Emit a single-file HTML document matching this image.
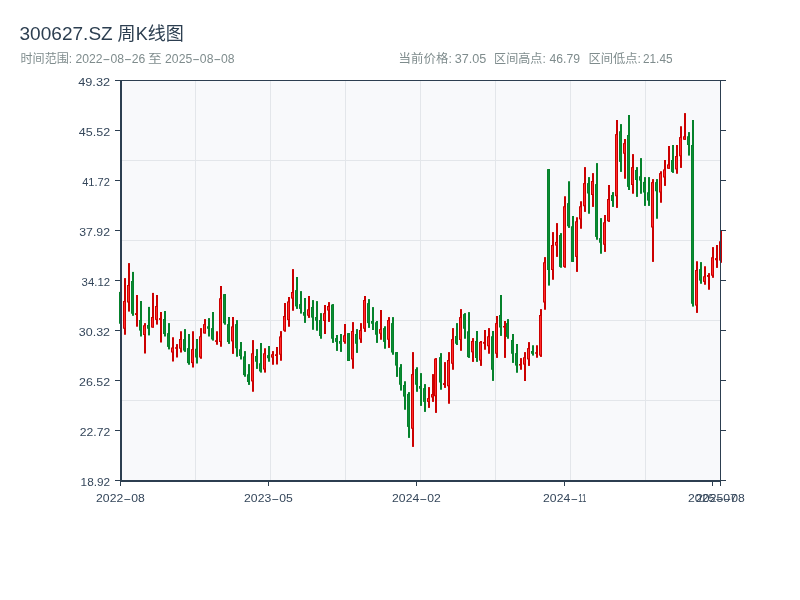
<!DOCTYPE html>
<html lang="zh-CN">
<head>
<meta charset="utf-8">
<title>300627.SZ 周K线图</title>
<style>
html,body{margin:0;padding:0;background:#fff;}
body{width:800px;height:600px;overflow:hidden;font-family:"Liberation Sans", "Noto Sans CJK SC", sans-serif;}
svg{display:block;}
svg text{font-family:"Liberation Sans", "Noto Sans CJK SC", sans-serif;}
</style>
</head>
<body>
<svg width="800" height="600" viewBox="0 0 800 600">
<rect x="0" y="0" width="800" height="600" fill="#ffffff"/>
<rect x="121" y="81" width="600" height="400" fill="#f8f9fb"/>
<g fill="#e3e6ea">
<rect x="195" y="81" width="1" height="400"/>
<rect x="270" y="81" width="1" height="400"/>
<rect x="345" y="81" width="1" height="400"/>
<rect x="420" y="81" width="1" height="400"/>
<rect x="495" y="81" width="1" height="400"/>
<rect x="570" y="81" width="1" height="400"/>
<rect x="645" y="81" width="1" height="400"/>
<rect x="121" y="160" width="600" height="1"/>
<rect x="121" y="240" width="600" height="1"/>
<rect x="121" y="320" width="600" height="1"/>
<rect x="121" y="400" width="600" height="1"/>
</g>
<g>
<g fill="#05822b"><rect x="120" y="291.9" width="2" height="31.85"/><rect x="119" y="291.9" width="3" height="31.85"/><rect x="120" y="292.9" width="1" height="29.85" fill="#0b8c32"/></g>
<g fill="#cc0000"><rect x="124" y="278.1" width="2" height="56.65"/><rect x="123" y="301" width="3" height="27.75"/><rect x="124" y="302" width="1" height="25.75" fill="#ff2b2b"/></g>
<g fill="#cc0000"><rect x="128" y="263.1" width="2" height="48.5"/><rect x="127" y="285" width="3" height="17.5"/><rect x="128" y="286" width="1" height="15.5" fill="#ff2b2b"/></g>
<g fill="#05822b"><rect x="132" y="271.9" width="2" height="43.9"/><rect x="131" y="281" width="3" height="32.75"/><rect x="132" y="282" width="1" height="30.75" fill="#0b8c32"/></g>
<g fill="#cc0000"><rect x="136" y="295" width="2" height="31.7"/><rect x="135" y="313.1" width="3" height="1.9"/></g>
<g fill="#05822b"><rect x="140" y="301" width="2" height="35.5"/><rect x="139" y="320" width="3" height="10.6"/><rect x="140" y="321" width="1" height="8.6" fill="#0b8c32"/></g>
<g fill="#cc0000"><rect x="144" y="323.1" width="2" height="30.4"/><rect x="143" y="325.25" width="3" height="9.75"/><rect x="144" y="326.25" width="1" height="7.75" fill="#ff2b2b"/></g>
<g fill="#05822b"><rect x="148" y="306.9" width="2" height="28.5"/><rect x="147" y="325" width="3" height="3.75"/><rect x="148" y="326" width="1" height="1.75" fill="#0b8c32"/></g>
<g fill="#cc0000"><rect x="152" y="292.9" width="2" height="34.7"/><rect x="151" y="317" width="3" height="10.6"/><rect x="152" y="318" width="1" height="8.6" fill="#ff2b2b"/></g>
<g fill="#cc0000"><rect x="156" y="295" width="2" height="29.6"/><rect x="155" y="306" width="3" height="13.9"/><rect x="156" y="307" width="1" height="11.9" fill="#ff2b2b"/></g>
<g fill="#cc0000"><rect x="160" y="312" width="2" height="30.5"/><rect x="159" y="318.1" width="3" height="1.8"/></g>
<g fill="#05822b"><rect x="164" y="311" width="2" height="25.5"/><rect x="163" y="319" width="3" height="15"/><rect x="164" y="320" width="1" height="13" fill="#0b8c32"/></g>
<g fill="#05822b"><rect x="168" y="323.1" width="2" height="26.3"/><rect x="167" y="333.1" width="3" height="13.8"/><rect x="168" y="334.1" width="1" height="11.8" fill="#0b8c32"/></g>
<g fill="#cc0000"><rect x="172" y="337.25" width="2" height="24.25"/><rect x="171" y="347.5" width="3" height="5"/><rect x="172" y="348.5" width="1" height="3" fill="#ff2b2b"/></g>
<g fill="#cc0000"><rect x="176" y="344.1" width="2" height="13.4"/><rect x="175" y="347.25" width="3" height="1.5"/></g>
<g fill="#cc0000"><rect x="180" y="331.25" width="2" height="21.25"/><rect x="179" y="339" width="3" height="9.75"/><rect x="180" y="340" width="1" height="7.75" fill="#ff2b2b"/></g>
<g fill="#05822b"><rect x="184" y="329.1" width="2" height="22.8"/><rect x="183" y="339.1" width="3" height="11.5"/><rect x="184" y="340.1" width="1" height="9.5" fill="#0b8c32"/></g>
<g fill="#05822b"><rect x="188" y="334" width="2" height="30.75"/><rect x="187" y="348.1" width="3" height="15"/><rect x="188" y="349.1" width="1" height="13" fill="#0b8c32"/></g>
<g fill="#cc0000"><rect x="192" y="331.25" width="2" height="36.25"/><rect x="191" y="349.1" width="3" height="14"/><rect x="192" y="350.1" width="1" height="12" fill="#ff2b2b"/></g>
<g fill="#05822b"><rect x="196" y="339" width="2" height="24.5"/><rect x="195" y="348.75" width="3" height="8.75"/><rect x="196" y="349.75" width="1" height="6.75" fill="#0b8c32"/></g>
<g fill="#cc0000"><rect x="200" y="328.1" width="2" height="30.65"/><rect x="199" y="336.25" width="3" height="21.25"/><rect x="200" y="337.25" width="1" height="19.25" fill="#ff2b2b"/></g>
<g fill="#cc0000"><rect x="204" y="319.1" width="2" height="14.4"/><rect x="203" y="324.1" width="3" height="9.4"/><rect x="204" y="325.1" width="1" height="7.4" fill="#ff2b2b"/></g>
<g fill="#05822b"><rect x="208" y="318.1" width="2" height="18.4"/><rect x="207" y="326.25" width="3" height="2.5"/><rect x="208" y="327.25" width="1" height="0.5" fill="#0b8c32"/></g>
<g fill="#05822b"><rect x="212" y="312" width="2" height="28.6"/><rect x="211" y="328.1" width="3" height="11.3"/><rect x="212" y="329.1" width="1" height="9.3" fill="#0b8c32"/></g>
<g fill="#cc0000"><rect x="216" y="331.25" width="2" height="13.5"/><rect x="215" y="340.25" width="3" height="1.65"/></g>
<g fill="#cc0000"><rect x="220" y="286" width="2" height="60.75"/><rect x="219" y="298.25" width="3" height="43.75"/><rect x="220" y="299.25" width="1" height="41.75" fill="#ff2b2b"/></g>
<g fill="#05822b"><rect x="224" y="294.1" width="2" height="30.6"/><rect x="223" y="294.1" width="3" height="29.15"/><rect x="224" y="295.1" width="1" height="27.15" fill="#0b8c32"/></g>
<g fill="#05822b"><rect x="228" y="317" width="2" height="26.9"/><rect x="227" y="324.1" width="3" height="17.9"/><rect x="228" y="325.1" width="1" height="15.9" fill="#0b8c32"/></g>
<g fill="#cc0000"><rect x="232" y="317" width="2" height="36.9"/><rect x="231" y="326.4" width="3" height="15"/><rect x="232" y="327.4" width="1" height="13" fill="#ff2b2b"/></g>
<g fill="#05822b"><rect x="236" y="320.1" width="2" height="36.65"/><rect x="235" y="324.1" width="3" height="24.15"/><rect x="236" y="325.1" width="1" height="22.15" fill="#0b8c32"/></g>
<g fill="#05822b"><rect x="240" y="342" width="2" height="17.5"/><rect x="239" y="349.25" width="3" height="6.75"/><rect x="240" y="350.25" width="1" height="4.75" fill="#0b8c32"/></g>
<g fill="#05822b"><rect x="244" y="351.1" width="2" height="25.65"/><rect x="243" y="356.4" width="3" height="18.7"/><rect x="244" y="357.4" width="1" height="16.7" fill="#0b8c32"/></g>
<g fill="#05822b"><rect x="248" y="364.1" width="2" height="20.8"/><rect x="247" y="374.25" width="3" height="7.75"/><rect x="248" y="375.25" width="1" height="5.75" fill="#0b8c32"/></g>
<g fill="#cc0000"><rect x="252" y="340.1" width="2" height="51.65"/><rect x="251" y="353.25" width="3" height="28.15"/><rect x="252" y="354.25" width="1" height="26.15" fill="#ff2b2b"/></g>
<g fill="#05822b"><rect x="256" y="349.1" width="2" height="19.8"/><rect x="255" y="356" width="3" height="5.75"/><rect x="256" y="357" width="1" height="3.75" fill="#0b8c32"/></g>
<g fill="#05822b"><rect x="260" y="343" width="2" height="29.6"/><rect x="259" y="363.25" width="3" height="8.15"/><rect x="260" y="364.25" width="1" height="6.15" fill="#0b8c32"/></g>
<g fill="#cc0000"><rect x="264" y="348.25" width="2" height="24.35"/><rect x="263" y="353.25" width="3" height="16.25"/><rect x="264" y="354.25" width="1" height="14.25" fill="#ff2b2b"/></g>
<g fill="#05822b"><rect x="268" y="346" width="2" height="15.75"/><rect x="267" y="355.1" width="3" height="3.15"/><rect x="268" y="356.1" width="1" height="1.15" fill="#0b8c32"/></g>
<g fill="#cc0000"><rect x="272" y="351.1" width="2" height="13.65"/><rect x="271" y="354.25" width="3" height="3.35"/><rect x="272" y="355.25" width="1" height="1.35" fill="#ff2b2b"/></g>
<g fill="#cc0000"><rect x="276" y="347" width="2" height="17.5"/><rect x="275" y="354.25" width="3" height="1.75"/></g>
<g fill="#cc0000"><rect x="280" y="331.1" width="2" height="29.65"/><rect x="279" y="336.4" width="3" height="18.35"/><rect x="280" y="337.4" width="1" height="16.35" fill="#ff2b2b"/></g>
<g fill="#cc0000"><rect x="284" y="303" width="2" height="28.75"/><rect x="283" y="316" width="3" height="14.75"/><rect x="284" y="317" width="1" height="12.75" fill="#ff2b2b"/></g>
<g fill="#cc0000"><rect x="288" y="297" width="2" height="29.75"/><rect x="287" y="301.4" width="3" height="18.7"/><rect x="288" y="302.4" width="1" height="16.7" fill="#ff2b2b"/></g>
<g fill="#cc0000"><rect x="292" y="269.1" width="2" height="41.65"/><rect x="291" y="292" width="3" height="6.6"/><rect x="292" y="293" width="1" height="4.6" fill="#ff2b2b"/></g>
<g fill="#05822b"><rect x="296" y="277" width="2" height="31.9"/><rect x="295" y="290.1" width="3" height="16.3"/><rect x="296" y="291.1" width="1" height="14.3" fill="#0b8c32"/></g>
<g fill="#05822b"><rect x="300" y="291.1" width="2" height="22.5"/><rect x="299" y="304.1" width="3" height="4.8"/><rect x="300" y="305.1" width="1" height="2.8" fill="#0b8c32"/></g>
<g fill="#05822b"><rect x="304" y="298" width="2" height="24.9"/><rect x="303" y="312" width="3" height="3.75"/><rect x="304" y="313" width="1" height="1.75" fill="#0b8c32"/></g>
<g fill="#cc0000"><rect x="308" y="296" width="2" height="21.9"/><rect x="307" y="309.25" width="3" height="6.5"/><rect x="308" y="310.25" width="1" height="4.5" fill="#ff2b2b"/></g>
<g fill="#05822b"><rect x="312" y="300.1" width="2" height="29.7"/><rect x="311" y="307" width="3" height="10.6"/><rect x="312" y="308" width="1" height="8.6" fill="#0b8c32"/></g>
<g fill="#05822b"><rect x="316" y="301.1" width="2" height="29.65"/><rect x="315" y="317" width="3" height="3.75"/><rect x="316" y="318" width="1" height="1.75" fill="#0b8c32"/></g>
<g fill="#05822b"><rect x="320" y="313.1" width="2" height="25.65"/><rect x="319" y="320" width="3" height="16"/><rect x="320" y="321" width="1" height="14" fill="#0b8c32"/></g>
<g fill="#cc0000"><rect x="324" y="305" width="2" height="29"/><rect x="323" y="313.1" width="3" height="7.9"/><rect x="324" y="314.1" width="1" height="5.9" fill="#ff2b2b"/></g>
<g fill="#cc0000"><rect x="328" y="302.1" width="2" height="19.8"/><rect x="327" y="306" width="3" height="4.6"/><rect x="328" y="307" width="1" height="2.6" fill="#ff2b2b"/></g>
<g fill="#05822b"><rect x="332" y="304.1" width="2" height="38.8"/><rect x="331" y="304.6" width="3" height="34.15"/><rect x="332" y="305.6" width="1" height="32.15" fill="#0b8c32"/></g>
<g fill="#05822b"><rect x="336" y="335" width="2" height="15.9"/><rect x="335" y="338.1" width="3" height="3.8"/><rect x="336" y="339.1" width="1" height="1.8" fill="#0b8c32"/></g>
<g fill="#05822b"><rect x="340" y="334" width="2" height="17.9"/><rect x="339" y="341" width="3" height="2.75"/><rect x="340" y="342" width="1" height="0.75" fill="#0b8c32"/></g>
<g fill="#cc0000"><rect x="344" y="324" width="2" height="19.75"/><rect x="343" y="335.25" width="3" height="6.65"/><rect x="344" y="336.25" width="1" height="4.65" fill="#ff2b2b"/></g>
<g fill="#05822b"><rect x="348" y="333.1" width="2" height="27.9"/><rect x="347" y="333.1" width="3" height="27.9"/><rect x="348" y="334.1" width="1" height="25.9" fill="#0b8c32"/></g>
<g fill="#cc0000"><rect x="352" y="322.1" width="2" height="46.65"/><rect x="351" y="331" width="3" height="28.4"/><rect x="352" y="332" width="1" height="26.4" fill="#ff2b2b"/></g>
<g fill="#05822b"><rect x="356" y="329.1" width="2" height="23.8"/><rect x="355" y="334" width="3" height="9.75"/><rect x="356" y="335" width="1" height="7.75" fill="#0b8c32"/></g>
<g fill="#cc0000"><rect x="360" y="323.1" width="2" height="19.8"/><rect x="359" y="330" width="3" height="9.4"/><rect x="360" y="331" width="1" height="7.4" fill="#ff2b2b"/></g>
<g fill="#cc0000"><rect x="364" y="296" width="2" height="35.9"/><rect x="363" y="300" width="3" height="28.75"/><rect x="364" y="301" width="1" height="26.75" fill="#ff2b2b"/></g>
<g fill="#05822b"><rect x="368" y="299.1" width="2" height="28.8"/><rect x="367" y="303.1" width="3" height="20"/><rect x="368" y="304.1" width="1" height="18" fill="#0b8c32"/></g>
<g fill="#05822b"><rect x="372" y="307.1" width="2" height="22.9"/><rect x="371" y="321" width="3" height="2.75"/><rect x="372" y="322" width="1" height="0.75" fill="#0b8c32"/></g>
<g fill="#05822b"><rect x="376" y="321" width="2" height="21.9"/><rect x="375" y="322.25" width="3" height="12.5"/><rect x="376" y="323.25" width="1" height="10.5" fill="#0b8c32"/></g>
<g fill="#cc0000"><rect x="380" y="310" width="2" height="29.75"/><rect x="379" y="329.1" width="3" height="4.65"/><rect x="380" y="330.1" width="1" height="2.65" fill="#ff2b2b"/></g>
<g fill="#05822b"><rect x="384" y="326.25" width="2" height="22.5"/><rect x="383" y="328.1" width="3" height="13.8"/><rect x="384" y="329.1" width="1" height="11.8" fill="#0b8c32"/></g>
<g fill="#cc0000"><rect x="388" y="317.1" width="2" height="30.8"/><rect x="387" y="320" width="3" height="19.75"/><rect x="388" y="321" width="1" height="17.75" fill="#ff2b2b"/></g>
<g fill="#05822b"><rect x="392" y="317.1" width="2" height="37.65"/><rect x="391" y="323.1" width="3" height="29.4"/><rect x="392" y="324.1" width="1" height="27.4" fill="#0b8c32"/></g>
<g fill="#05822b"><rect x="396" y="352.1" width="2" height="24.8"/><rect x="395" y="352.1" width="3" height="13.5"/><rect x="396" y="353.1" width="1" height="11.5" fill="#0b8c32"/></g>
<g fill="#05822b"><rect x="400" y="364.1" width="2" height="26.5"/><rect x="399" y="367.25" width="3" height="17.5"/><rect x="400" y="368.25" width="1" height="15.5" fill="#0b8c32"/></g>
<g fill="#05822b"><rect x="404" y="381.25" width="2" height="28.5"/><rect x="403" y="385" width="3" height="11.6"/><rect x="404" y="386" width="1" height="9.6" fill="#0b8c32"/></g>
<g fill="#05822b"><rect x="408" y="392.1" width="2" height="45.8"/><rect x="407" y="393.9" width="3" height="33"/><rect x="408" y="394.9" width="1" height="31" fill="#0b8c32"/></g>
<g fill="#cc0000"><rect x="412" y="352.1" width="2" height="94.8"/><rect x="411" y="374.1" width="3" height="54.65"/><rect x="412" y="375.1" width="1" height="52.65" fill="#ff2b2b"/></g>
<g fill="#05822b"><rect x="416" y="367.25" width="2" height="24.55"/><rect x="415" y="369.1" width="3" height="15.65"/><rect x="416" y="370.1" width="1" height="13.65" fill="#0b8c32"/></g>
<g fill="#05822b"><rect x="420" y="373.1" width="2" height="32.8"/><rect x="419" y="386" width="3" height="2.75"/><rect x="420" y="387" width="1" height="0.75" fill="#0b8c32"/></g>
<g fill="#05822b"><rect x="424" y="384.1" width="2" height="27.8"/><rect x="423" y="388.1" width="3" height="13.8"/><rect x="424" y="389.1" width="1" height="11.8" fill="#0b8c32"/></g>
<g fill="#cc0000"><rect x="428" y="387.1" width="2" height="20.8"/><rect x="427" y="398.1" width="3" height="3.8"/><rect x="428" y="399.1" width="1" height="1.8" fill="#ff2b2b"/></g>
<g fill="#cc0000"><rect x="432" y="374.1" width="2" height="27.8"/><rect x="431" y="394.1" width="3" height="3.4"/><rect x="432" y="395.1" width="1" height="1.4" fill="#ff2b2b"/></g>
<g fill="#cc0000"><rect x="435" y="358.1" width="2" height="54.8"/><rect x="434" y="358.6" width="3" height="37.65"/><rect x="435" y="359.6" width="1" height="35.65" fill="#ff2b2b"/></g>
<g fill="#05822b"><rect x="440" y="353.1" width="2" height="36.65"/><rect x="439" y="357.1" width="3" height="25.4"/><rect x="440" y="358.1" width="1" height="23.4" fill="#0b8c32"/></g>
<g fill="#cc0000"><rect x="444" y="362.1" width="2" height="25.8"/><rect x="443" y="383.1" width="3" height="1.9"/></g>
<g fill="#cc0000"><rect x="448" y="352.1" width="2" height="51.65"/><rect x="447" y="360" width="3" height="26.25"/><rect x="448" y="361" width="1" height="24.25" fill="#ff2b2b"/></g>
<g fill="#cc0000"><rect x="452" y="328.1" width="2" height="41.65"/><rect x="451" y="339.1" width="3" height="24.65"/><rect x="452" y="340.1" width="1" height="22.65" fill="#ff2b2b"/></g>
<g fill="#05822b"><rect x="456" y="323.1" width="2" height="21.9"/><rect x="455" y="336" width="3" height="7.75"/><rect x="456" y="337" width="1" height="5.75" fill="#0b8c32"/></g>
<g fill="#cc0000"><rect x="460" y="309.1" width="2" height="41.7"/><rect x="459" y="317.1" width="3" height="22.9"/><rect x="460" y="318.1" width="1" height="20.9" fill="#ff2b2b"/></g>
<g fill="#05822b"><rect x="464" y="313.1" width="2" height="25.65"/><rect x="463" y="314.1" width="3" height="14.65"/><rect x="464" y="315.1" width="1" height="12.65" fill="#0b8c32"/></g>
<g fill="#05822b"><rect x="468" y="312.1" width="2" height="45.8"/><rect x="467" y="331.25" width="3" height="25.85"/><rect x="468" y="332.25" width="1" height="23.85" fill="#0b8c32"/></g>
<g fill="#cc0000"><rect x="472" y="338.1" width="2" height="23.8"/><rect x="471" y="341" width="3" height="11.3"/><rect x="472" y="342" width="1" height="9.3" fill="#ff2b2b"/></g>
<g fill="#05822b"><rect x="476" y="331" width="2" height="30.9"/><rect x="475" y="341" width="3" height="17"/><rect x="476" y="342" width="1" height="15" fill="#0b8c32"/></g>
<g fill="#cc0000"><rect x="480" y="341" width="2" height="24.9"/><rect x="479" y="341.9" width="3" height="18.7"/><rect x="480" y="342.9" width="1" height="16.7" fill="#ff2b2b"/></g>
<g fill="#cc0000"><rect x="484" y="330" width="2" height="19.75"/><rect x="483" y="341.9" width="3" height="1.85"/></g>
<g fill="#cc0000"><rect x="488" y="328.1" width="2" height="25.65"/><rect x="487" y="336.25" width="3" height="10"/><rect x="488" y="337.25" width="1" height="8" fill="#ff2b2b"/></g>
<g fill="#05822b"><rect x="492" y="331" width="2" height="49.9"/><rect x="491" y="336.25" width="3" height="33.5"/><rect x="492" y="337.25" width="1" height="31.5" fill="#0b8c32"/></g>
<g fill="#cc0000"><rect x="496" y="316" width="2" height="41.9"/><rect x="495" y="323.1" width="3" height="30.65"/><rect x="496" y="324.1" width="1" height="28.65" fill="#ff2b2b"/></g>
<g fill="#05822b"><rect x="500" y="295" width="2" height="40.9"/><rect x="499" y="315" width="3" height="12.5"/><rect x="500" y="316" width="1" height="10.5" fill="#0b8c32"/></g>
<g fill="#cc0000"><rect x="504" y="321" width="2" height="36.9"/><rect x="503" y="326" width="3" height="1.5"/></g>
<g fill="#05822b"><rect x="507" y="319.1" width="2" height="19.65"/><rect x="506" y="323.1" width="3" height="13.8"/><rect x="507" y="324.1" width="1" height="11.8" fill="#0b8c32"/></g>
<g fill="#05822b"><rect x="512" y="334" width="2" height="28.9"/><rect x="511" y="340" width="3" height="13.75"/><rect x="512" y="341" width="1" height="11.75" fill="#0b8c32"/></g>
<g fill="#05822b"><rect x="516" y="344" width="2" height="28.75"/><rect x="515" y="353.1" width="3" height="12.5"/><rect x="516" y="354.1" width="1" height="10.5" fill="#0b8c32"/></g>
<g fill="#cc0000"><rect x="520" y="358.1" width="2" height="11.65"/><rect x="519" y="364" width="3" height="1.6"/></g>
<g fill="#cc0000"><rect x="524" y="352.1" width="2" height="28.9"/><rect x="523" y="357.25" width="3" height="7.35"/><rect x="524" y="358.25" width="1" height="5.35" fill="#ff2b2b"/></g>
<g fill="#cc0000"><rect x="528" y="342.1" width="2" height="23.8"/><rect x="527" y="348.1" width="3" height="11.3"/><rect x="528" y="349.1" width="1" height="9.3" fill="#ff2b2b"/></g>
<g fill="#05822b"><rect x="532" y="345.25" width="2" height="10.35"/><rect x="531" y="351" width="3" height="2.75"/><rect x="532" y="352" width="1" height="0.75" fill="#0b8c32"/></g>
<g fill="#cc0000"><rect x="536" y="345.25" width="2" height="12.5"/><rect x="535" y="352.25" width="3" height="1.5"/></g>
<g fill="#cc0000"><rect x="540" y="309.1" width="2" height="47.8"/><rect x="539" y="315" width="3" height="40.6"/><rect x="540" y="316" width="1" height="38.6" fill="#ff2b2b"/></g>
<g fill="#cc0000"><rect x="544" y="257.1" width="2" height="52.65"/><rect x="543" y="262.25" width="3" height="40.25"/><rect x="544" y="263.25" width="1" height="38.25" fill="#ff2b2b"/></g>
<g fill="#05822b"><rect x="548" y="169.1" width="2" height="116.5"/><rect x="547" y="169.1" width="3" height="100.9"/><rect x="548" y="170.1" width="1" height="98.9" fill="#0b8c32"/></g>
<g fill="#cc0000"><rect x="552" y="232.1" width="2" height="47.65"/><rect x="551" y="245" width="3" height="25"/><rect x="552" y="246" width="1" height="23" fill="#ff2b2b"/></g>
<g fill="#cc0000"><rect x="556" y="223.1" width="2" height="33.8"/><rect x="555" y="241.9" width="3" height="3.7"/><rect x="556" y="242.9" width="1" height="1.7" fill="#ff2b2b"/></g>
<g fill="#05822b"><rect x="560" y="233.1" width="2" height="34.65"/><rect x="559" y="235" width="3" height="31.9"/><rect x="560" y="236" width="1" height="29.9" fill="#0b8c32"/></g>
<g fill="#cc0000"><rect x="564" y="196.25" width="2" height="71.5"/><rect x="563" y="206.25" width="3" height="60.65"/><rect x="564" y="207.25" width="1" height="58.65" fill="#ff2b2b"/></g>
<g fill="#05822b"><rect x="568" y="181.25" width="2" height="46.65"/><rect x="567" y="203.1" width="3" height="23.15"/><rect x="568" y="204.1" width="1" height="21.15" fill="#0b8c32"/></g>
<g fill="#05822b"><rect x="572" y="216" width="2" height="45.9"/><rect x="571" y="226.25" width="3" height="35.65"/><rect x="572" y="227.25" width="1" height="33.65" fill="#0b8c32"/></g>
<g fill="#cc0000"><rect x="576" y="217.25" width="2" height="54.65"/><rect x="575" y="221.25" width="3" height="35.65"/><rect x="576" y="222.25" width="1" height="33.65" fill="#ff2b2b"/></g>
<g fill="#cc0000"><rect x="580" y="201.25" width="2" height="27.5"/><rect x="579" y="206.25" width="3" height="13.15"/><rect x="580" y="207.25" width="1" height="11.15" fill="#ff2b2b"/></g>
<g fill="#cc0000"><rect x="584" y="167.1" width="2" height="44.8"/><rect x="583" y="183.1" width="3" height="23.15"/><rect x="584" y="184.1" width="1" height="21.15" fill="#ff2b2b"/></g>
<g fill="#05822b"><rect x="588" y="177.1" width="2" height="36.65"/><rect x="587" y="183.1" width="3" height="10.4"/><rect x="588" y="184.1" width="1" height="8.4" fill="#0b8c32"/></g>
<g fill="#cc0000"><rect x="592" y="173.1" width="2" height="33.8"/><rect x="591" y="181" width="3" height="14"/><rect x="592" y="182" width="1" height="12" fill="#ff2b2b"/></g>
<g fill="#05822b"><rect x="596" y="163.1" width="2" height="76.65"/><rect x="595" y="184.1" width="3" height="52.8"/><rect x="596" y="185.1" width="1" height="50.8" fill="#0b8c32"/></g>
<g fill="#05822b"><rect x="600" y="218.1" width="2" height="35.65"/><rect x="599" y="238.1" width="3" height="4.65"/><rect x="600" y="239.1" width="1" height="2.65" fill="#0b8c32"/></g>
<g fill="#cc0000"><rect x="604" y="215" width="2" height="36.9"/><rect x="603" y="222.25" width="3" height="22.5"/><rect x="604" y="223.25" width="1" height="20.5" fill="#ff2b2b"/></g>
<g fill="#cc0000"><rect x="608" y="185" width="2" height="36.9"/><rect x="607" y="199" width="3" height="22.25"/><rect x="608" y="200" width="1" height="20.25" fill="#ff2b2b"/></g>
<g fill="#05822b"><rect x="612" y="192.1" width="2" height="14.8"/><rect x="611" y="195" width="3" height="6"/><rect x="612" y="196" width="1" height="4" fill="#0b8c32"/></g>
<g fill="#cc0000"><rect x="616" y="120" width="2" height="87.9"/><rect x="615" y="134.1" width="3" height="62.15"/><rect x="616" y="135.1" width="1" height="60.15" fill="#ff2b2b"/></g>
<g fill="#05822b"><rect x="620" y="124.1" width="2" height="47.8"/><rect x="619" y="131.25" width="3" height="30.65"/><rect x="620" y="132.25" width="1" height="28.65" fill="#0b8c32"/></g>
<g fill="#cc0000"><rect x="624" y="139" width="2" height="39.75"/><rect x="623" y="143.1" width="3" height="10.65"/><rect x="624" y="144.1" width="1" height="8.65" fill="#ff2b2b"/></g>
<g fill="#05822b"><rect x="628" y="115" width="2" height="75"/><rect x="627" y="135" width="3" height="51.9"/><rect x="628" y="136" width="1" height="49.9" fill="#0b8c32"/></g>
<g fill="#cc0000"><rect x="632" y="154.1" width="2" height="39.65"/><rect x="631" y="167.1" width="3" height="17.9"/><rect x="632" y="168.1" width="1" height="15.9" fill="#ff2b2b"/></g>
<g fill="#05822b"><rect x="636" y="167.1" width="2" height="29.8"/><rect x="635" y="170" width="3" height="10"/><rect x="636" y="171" width="1" height="8" fill="#0b8c32"/></g>
<g fill="#05822b"><rect x="640" y="158.1" width="2" height="35.65"/><rect x="639" y="176.25" width="3" height="4.35"/><rect x="640" y="177.25" width="1" height="2.35" fill="#0b8c32"/></g>
<g fill="#05822b"><rect x="644" y="177.1" width="2" height="28.8"/><rect x="643" y="181.9" width="3" height="10.6"/><rect x="644" y="182.9" width="1" height="8.6" fill="#0b8c32"/></g>
<g fill="#05822b"><rect x="648" y="177.1" width="2" height="28.8"/><rect x="647" y="192.25" width="3" height="8.35"/><rect x="648" y="193.25" width="1" height="6.35" fill="#0b8c32"/></g>
<g fill="#cc0000"><rect x="652" y="179.1" width="2" height="82.8"/><rect x="651" y="182.1" width="3" height="45.4"/><rect x="652" y="183.1" width="1" height="43.4" fill="#ff2b2b"/></g>
<g fill="#05822b"><rect x="656" y="179.1" width="2" height="39.65"/><rect x="655" y="182.1" width="3" height="9.15"/><rect x="656" y="183.1" width="1" height="7.15" fill="#0b8c32"/></g>
<g fill="#cc0000"><rect x="660" y="171.25" width="2" height="31.5"/><rect x="659" y="173.1" width="3" height="19.4"/><rect x="660" y="174.1" width="1" height="17.4" fill="#ff2b2b"/></g>
<g fill="#cc0000"><rect x="664" y="160" width="2" height="25.9"/><rect x="663" y="169.4" width="3" height="8.1"/><rect x="664" y="170.4" width="1" height="6.1" fill="#ff2b2b"/></g>
<g fill="#cc0000"><rect x="668" y="146" width="2" height="22.75"/><rect x="667" y="164.4" width="3" height="4.35"/><rect x="668" y="165.4" width="1" height="2.35" fill="#ff2b2b"/></g>
<g fill="#05822b"><rect x="672" y="145" width="2" height="27.9"/><rect x="671" y="160" width="3" height="11.9"/><rect x="672" y="161" width="1" height="9.9" fill="#0b8c32"/></g>
<g fill="#cc0000"><rect x="676" y="145" width="2" height="28.75"/><rect x="675" y="156" width="3" height="13.4"/><rect x="676" y="157" width="1" height="11.4" fill="#ff2b2b"/></g>
<g fill="#cc0000"><rect x="680" y="126.25" width="2" height="41.65"/><rect x="679" y="137.1" width="3" height="19.15"/><rect x="680" y="138.1" width="1" height="17.15" fill="#ff2b2b"/></g>
<g fill="#cc0000"><rect x="684" y="113.1" width="2" height="26.65"/><rect x="683" y="136.25" width="3" height="3.5"/><rect x="684" y="137.25" width="1" height="1.5" fill="#ff2b2b"/></g>
<g fill="#05822b"><rect x="688" y="132.1" width="2" height="23.5"/><rect x="687" y="136.25" width="3" height="8.75"/><rect x="688" y="137.25" width="1" height="6.75" fill="#0b8c32"/></g>
<g fill="#05822b"><rect x="692" y="120" width="2" height="186.6"/><rect x="691" y="145" width="3" height="158.75"/><rect x="692" y="146" width="1" height="156.75" fill="#0b8c32"/></g>
<g fill="#cc0000"><rect x="696" y="261.25" width="2" height="51.65"/><rect x="695" y="270" width="3" height="35.6"/><rect x="696" y="271" width="1" height="33.6" fill="#ff2b2b"/></g>
<g fill="#05822b"><rect x="700" y="262.1" width="2" height="21.65"/><rect x="699" y="269.1" width="3" height="11.5"/><rect x="700" y="270.1" width="1" height="9.5" fill="#0b8c32"/></g>
<g fill="#cc0000"><rect x="704" y="266.25" width="2" height="18.5"/><rect x="703" y="276.25" width="3" height="5.65"/><rect x="704" y="277.25" width="1" height="3.65" fill="#ff2b2b"/></g>
<g fill="#cc0000"><rect x="708" y="273.1" width="2" height="16.65"/><rect x="707" y="275" width="3" height="1.9"/></g>
<g fill="#cc0000"><rect x="712" y="247.1" width="2" height="30.7"/><rect x="711" y="257.25" width="3" height="18.45"/><rect x="712" y="258.25" width="1" height="16.45" fill="#ff2b2b"/></g>
<g fill="#cc0000"><rect x="716" y="245" width="2" height="22.9"/><rect x="715" y="258.1" width="3" height="2.15"/></g>
<g fill="#cc0000"><rect x="720" y="230.6" width="2" height="32.2"/><rect x="719" y="241.25" width="3" height="19.35"/><rect x="720" y="242.25" width="1" height="17.35" fill="#ff2b2b"/></g>
</g>
<g fill="#2c3e50">
<rect x="120" y="80" width="2" height="402"/>
<rect x="120" y="480" width="601" height="2"/>
<rect x="120" y="80" width="601" height="1"/>
<rect x="720" y="80" width="1" height="402"/>
<rect x="115" y="80" width="5" height="1"/><rect x="721" y="80" width="5" height="1"/>
<rect x="115" y="130" width="5" height="1"/><rect x="721" y="130" width="5" height="1"/>
<rect x="115" y="180" width="5" height="1"/><rect x="721" y="180" width="5" height="1"/>
<rect x="115" y="230" width="5" height="1"/><rect x="721" y="230" width="5" height="1"/>
<rect x="115" y="280" width="5" height="1"/><rect x="721" y="280" width="5" height="1"/>
<rect x="115" y="330" width="5" height="1"/><rect x="721" y="330" width="5" height="1"/>
<rect x="115" y="380" width="5" height="1"/><rect x="721" y="380" width="5" height="1"/>
<rect x="115" y="430" width="5" height="1"/><rect x="721" y="430" width="5" height="1"/>
<rect x="115" y="480" width="5" height="1"/><rect x="721" y="480" width="5" height="1"/>
<rect x="120" y="482" width="1" height="4"/><rect x="268" y="482" width="1" height="4"/><rect x="416" y="482" width="1" height="4"/><rect x="564" y="482" width="1" height="4"/><rect x="712" y="482" width="1" height="4"/><rect x="720" y="482" width="1" height="4"/>
</g>
<text x="19.54" y="39.5" font-size="18" fill="#2c3e50" textLength="93.21" lengthAdjust="spacingAndGlyphs">300627.SZ</text>
<text x="117.58" y="39.5" font-size="18" fill="#2c3e50" textLength="66.34" lengthAdjust="spacingAndGlyphs">周K线图</text>
<text x="20.50" y="63" font-size="12" fill="#7f8c8d" textLength="51.71" lengthAdjust="spacingAndGlyphs">时间范围:</text>
<text y="63" font-size="12" fill="#7f8c8d"><tspan x="75.40" textLength="27.12" lengthAdjust="spacingAndGlyphs">2022</tspan><tspan x="102.52" textLength="7.88" lengthAdjust="spacingAndGlyphs">-</tspan><tspan x="110.40" textLength="13.56" lengthAdjust="spacingAndGlyphs">08</tspan><tspan x="123.96" textLength="7.88" lengthAdjust="spacingAndGlyphs">-</tspan><tspan x="131.84" textLength="13.56" lengthAdjust="spacingAndGlyphs">26</tspan></text>
<text x="148.08" y="63" font-size="12" fill="#7f8c8d" textLength="13.82" lengthAdjust="spacingAndGlyphs">至</text>
<text y="63" font-size="12" fill="#7f8c8d"><tspan x="165.10" textLength="27.12" lengthAdjust="spacingAndGlyphs">2025</tspan><tspan x="192.22" textLength="7.65" lengthAdjust="spacingAndGlyphs">-</tspan><tspan x="199.88" textLength="13.56" lengthAdjust="spacingAndGlyphs">08</tspan><tspan x="213.44" textLength="7.65" lengthAdjust="spacingAndGlyphs">-</tspan><tspan x="221.09" textLength="13.56" lengthAdjust="spacingAndGlyphs">08</tspan></text>
<text x="398.59" y="63" font-size="12" fill="#7f8c8d" textLength="53.29" lengthAdjust="spacingAndGlyphs">当前价格:</text>
<text x="454.80" y="63" font-size="12" fill="#7f8c8d" textLength="31.58" lengthAdjust="spacingAndGlyphs">37.05</text>
<text x="494.06" y="63" font-size="12" fill="#7f8c8d" textLength="51.74" lengthAdjust="spacingAndGlyphs">区间高点:</text>
<text x="549.47" y="63" font-size="12" fill="#7f8c8d" textLength="30.46" lengthAdjust="spacingAndGlyphs">46.79</text>
<text x="588.45" y="63" font-size="12" fill="#7f8c8d" textLength="52.50" lengthAdjust="spacingAndGlyphs">区间低点:</text>
<text x="642.99" y="63" font-size="12" fill="#7f8c8d" textLength="29.53" lengthAdjust="spacingAndGlyphs">21.45</text>
<text x="78.21" y="86" font-size="11.5" fill="#34465a" textLength="31.87" lengthAdjust="spacingAndGlyphs">49.32</text>
<text x="78.83" y="136" font-size="11.5" fill="#34465a" textLength="31.32" lengthAdjust="spacingAndGlyphs">45.52</text>
<text x="82.21" y="186" font-size="11.5" fill="#34465a" textLength="27.71" lengthAdjust="spacingAndGlyphs">41.72</text>
<text x="79.25" y="236" font-size="11.5" fill="#34465a" textLength="30.73" lengthAdjust="spacingAndGlyphs">37.92</text>
<text x="81.62" y="286" font-size="11.5" fill="#34465a" textLength="28.45" lengthAdjust="spacingAndGlyphs">34.12</text>
<text x="78.79" y="336" font-size="11.5" fill="#34465a" textLength="31.24" lengthAdjust="spacingAndGlyphs">30.32</text>
<text x="79.07" y="386" font-size="11.5" fill="#34465a" textLength="31.03" lengthAdjust="spacingAndGlyphs">26.52</text>
<text x="79.72" y="436" font-size="11.5" fill="#34465a" textLength="30.46" lengthAdjust="spacingAndGlyphs">22.72</text>
<text x="80.62" y="486" font-size="11.5" fill="#34465a" textLength="29.46" lengthAdjust="spacingAndGlyphs">18.92</text>
<text y="502" font-size="11.5" fill="#34465a"><tspan x="96.10" textLength="27.12" lengthAdjust="spacingAndGlyphs">2022</tspan><tspan x="123.22" textLength="8.12" lengthAdjust="spacingAndGlyphs">-</tspan><tspan x="131.34" textLength="13.56" lengthAdjust="spacingAndGlyphs">08</tspan></text>
<text y="502" font-size="11.5" fill="#34465a"><tspan x="244.10" textLength="27.12" lengthAdjust="spacingAndGlyphs">2023</tspan><tspan x="271.22" textLength="8.12" lengthAdjust="spacingAndGlyphs">-</tspan><tspan x="279.34" textLength="13.56" lengthAdjust="spacingAndGlyphs">05</tspan></text>
<text y="502" font-size="11.5" fill="#34465a"><tspan x="392.10" textLength="27.12" lengthAdjust="spacingAndGlyphs">2024</tspan><tspan x="419.22" textLength="8.12" lengthAdjust="spacingAndGlyphs">-</tspan><tspan x="427.34" textLength="13.56" lengthAdjust="spacingAndGlyphs">02</tspan></text>
<text y="502" font-size="11.5" fill="#34465a"><tspan x="543.1" textLength="27.1" lengthAdjust="spacingAndGlyphs">2024</tspan><tspan x="570.6" textLength="7.7" lengthAdjust="spacingAndGlyphs">-</tspan><tspan x="578.3" textLength="8.2" lengthAdjust="spacingAndGlyphs">11</tspan></text>
<text y="502" font-size="11.5" fill="#34465a"><tspan x="688.10" textLength="27.12" lengthAdjust="spacingAndGlyphs">2025</tspan><tspan x="715.22" textLength="8.12" lengthAdjust="spacingAndGlyphs">-</tspan><tspan x="723.34" textLength="13.56" lengthAdjust="spacingAndGlyphs">07</tspan></text>
<text y="502" font-size="11.5" fill="#34465a"><tspan x="696.10" textLength="27.12" lengthAdjust="spacingAndGlyphs">2025</tspan><tspan x="723.22" textLength="8.12" lengthAdjust="spacingAndGlyphs">-</tspan><tspan x="731.34" textLength="13.56" lengthAdjust="spacingAndGlyphs">08</tspan></text>
</svg>
</body>
</html>
